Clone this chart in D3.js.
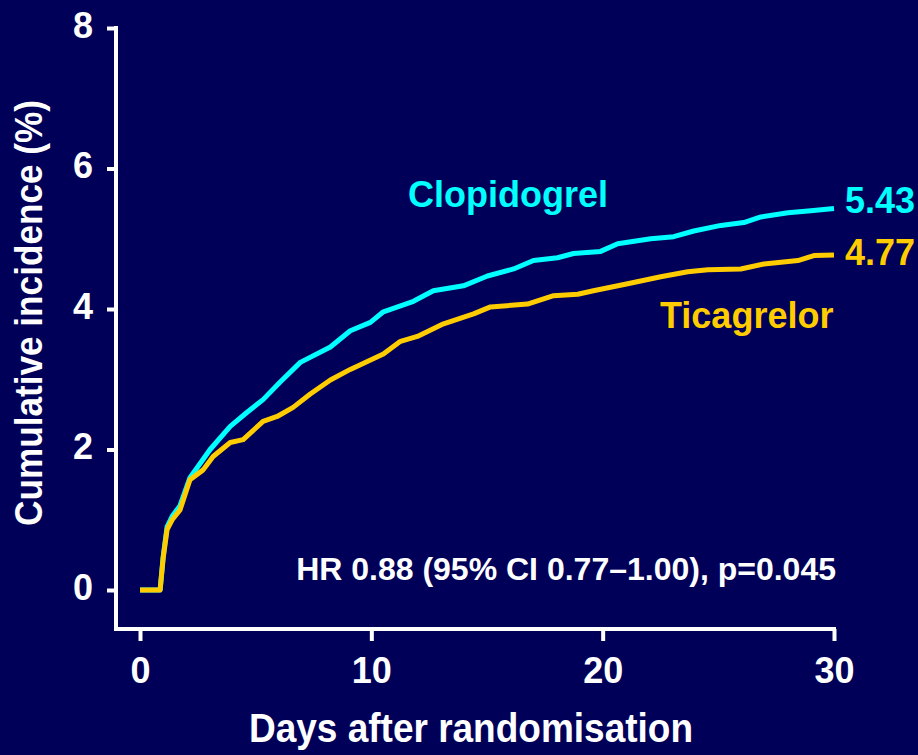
<!DOCTYPE html>
<html>
<head>
<meta charset="utf-8">
<script src="https://cdn.jsdelivr.net/npm/d3@7"></script>
<style>
  html, body { margin: 0; padding: 0; background: #000058; }
  svg { display: block; }
  text { font-family: Arial, "Liberation Sans", sans-serif; font-weight: bold; }
</style>
</head>
<body>
<script>
// days after randomisation / cumulative incidence (%)
const clopiDays = [0, 0.87, 1.0, 1.17, 1.39, 1.73, 2.16, 2.6, 3.03, 3.9, 4.63, 5.32, 6.06, 6.93, 8.23, 9.09, 9.96, 10.52, 11.82, 12.68, 13.98, 15.02, 16.15, 17.01, 18.05, 18.74, 19.91, 20.65, 22.08, 23.07, 23.94, 25.11, 26.1, 26.84, 28.01, 29.0, 30];
const clopiVals = [0, 0, 0.47, 0.9, 1.05, 1.2, 1.6, 1.8, 2.0, 2.33, 2.53, 2.71, 2.96, 3.24, 3.46, 3.69, 3.81, 3.96, 4.11, 4.26, 4.33, 4.47, 4.57, 4.69, 4.73, 4.79, 4.82, 4.93, 5.0, 5.03, 5.11, 5.19, 5.23, 5.31, 5.37, 5.4, 5.43];

const ticaDays = [0, 0.87, 1.0, 1.17, 1.39, 1.73, 2.16, 2.73, 3.16, 3.9, 4.46, 5.32, 5.93, 6.62, 7.36, 8.23, 9.09, 10.52, 11.26, 11.99, 13.12, 14.42, 15.15, 16.75, 17.88, 18.92, 19.6, 21.08, 22.51, 23.68, 24.55, 25.97, 26.97, 28.44, 29.13, 30];
const ticaVals = [0, 0, 0.45, 0.86, 1.0, 1.14, 1.57, 1.71, 1.9, 2.1, 2.14, 2.4, 2.47, 2.6, 2.79, 2.99, 3.14, 3.36, 3.54, 3.61, 3.79, 3.93, 4.03, 4.07, 4.19, 4.21, 4.26, 4.36, 4.46, 4.53, 4.56, 4.57, 4.64, 4.69, 4.76, 4.77];

const xTicks = [0, 10, 20, 30];
const yTicks = [0, 2, 4, 6, 8];

const svg = d3.select('body').append('svg')
  .attr('width', 918)
  .attr('height', 755);

svg.append('rect')
  .attr('width', 918)
  .attr('height', 755)
  .attr('fill', '#000058');

const x = d3.scaleLinear().domain([0, 30]).range([140, 834]);
const y = d3.scaleLinear().domain([0, 8]).range([590, 28]);

const axisX = 116;   // where the y axis sits
const axisY = 629;   // where the x axis sits

// axis lines
svg.append('line')
  .attr('x1', axisX).attr('x2', axisX)
  .attr('y1', y(8) - 2).attr('y2', axisY + 2)
  .attr('stroke', 'white').attr('stroke-width', 4);

svg.append('line')
  .attr('x1', axisX - 2).attr('x2', x(30) + 2)
  .attr('y1', axisY).attr('y2', axisY)
  .attr('stroke', 'white').attr('stroke-width', 4);

// y axis ticks
const gy = svg.append('g')
  .attr('transform', `translate(${axisX},0)`)
  .call(d3.axisLeft(y).tickValues(yTicks).tickSize(9).tickSizeOuter(0).tickPadding(14));
gy.select('.domain').remove();
gy.selectAll('.tick line').attr('stroke', 'white').attr('stroke-width', 4);
gy.selectAll('.tick text')
  .attr('fill', 'white')
  .attr('font-size', 36)
  .attr('dy', 9)
  .style('font-family', 'Arial, "Liberation Sans", sans-serif');

// x axis ticks
const gx = svg.append('g')
  .attr('transform', `translate(0,${axisY})`)
  .call(d3.axisBottom(x).tickValues(xTicks).tickSize(12).tickSizeOuter(0).tickPadding(0));
gx.select('.domain').remove();
gx.selectAll('.tick line').attr('stroke', 'white').attr('stroke-width', 4);
gx.selectAll('.tick text')
  .attr('fill', 'white')
  .attr('font-size', 36)
  .attr('y', 54)
  .attr('dy', 0)
  .style('font-family', 'Arial, "Liberation Sans", sans-serif');

// axis titles
svg.append('text')
  .attr('transform', 'translate(42,313) rotate(-90)')
  .attr('text-anchor', 'middle')
  .attr('font-size', 38)
  .attr('textLength', 426)
  .attr('lengthAdjust', 'spacingAndGlyphs')
  .attr('fill', 'white')
  .text('Cumulative incidence (%)');

svg.append('text')
  .attr('x', 471)
  .attr('y', 742)
  .attr('text-anchor', 'middle')
  .attr('font-size', 41)
  .attr('textLength', 444)
  .attr('lengthAdjust', 'spacingAndGlyphs')
  .attr('fill', 'white')
  .text('Days after randomisation');

// curves
const line = d3.line()
  .x(d => x(d[0]))
  .y(d => y(d[1]));

svg.append('path')
  .datum(d3.zip(clopiDays, clopiVals))
  .attr('d', line)
  .attr('fill', 'none')
  .attr('stroke', '#00ffff')
  .attr('stroke-width', 5)
  .attr('stroke-linejoin', 'round');

svg.append('path')
  .datum(d3.zip(ticaDays, ticaVals))
  .attr('d', line)
  .attr('fill', 'none')
  .attr('stroke', '#ffcc00')
  .attr('stroke-width', 5)
  .attr('stroke-linejoin', 'round');

// labels
svg.append('text')
  .attr('x', 408).attr('y', 207)
  .attr('font-size', 36)
  .attr('fill', '#00ffff')
  .text('Clopidogrel');

svg.append('text')
  .attr('x', 660).attr('y', 328)
  .attr('font-size', 36)
  .attr('fill', '#ffcc00')
  .text('Ticagrelor');

svg.append('text')
  .attr('x', 845).attr('y', 213)
  .attr('font-size', 36)
  .attr('fill', '#00ffff')
  .text(clopiVals[clopiVals.length - 1].toFixed(2));

svg.append('text')
  .attr('x', 845).attr('y', 265)
  .attr('font-size', 36)
  .attr('fill', '#ffcc00')
  .text(ticaVals[ticaVals.length - 1].toFixed(2));

svg.append('text')
  .attr('x', 836).attr('y', 580)
  .attr('text-anchor', 'end')
  .attr('font-size', 32)
  .attr('fill', 'white')
  .text('HR 0.88 (95% CI 0.77\u20131.00), p=0.045');
</script>
</body>
</html>
